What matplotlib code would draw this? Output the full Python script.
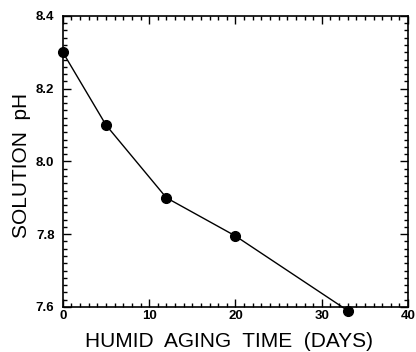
import matplotlib.pyplot as plt
from matplotlib.ticker import MultipleLocator

plt.rcParams['font.family'] = ['Liberation Sans', 'DejaVu Sans']

# Humid aging data
days = [0, 5, 12, 20, 33]
ph = [8.30, 8.10, 7.90, 7.795, 7.59]

fig = plt.figure(figsize=(4.16, 3.52), dpi=100)
ax = fig.add_axes([0.151, 0.128, 0.830, 0.827])

ax.plot(days, ph, color='black', linewidth=1.0, marker='o', markersize=7,
        markerfacecolor='black', markeredgecolor='black', clip_on=False, zorder=3)

ax.set_xlim(0, 40)
ax.set_ylim(7.6, 8.4)
ax.xaxis.set_major_locator(MultipleLocator(10))
ax.xaxis.set_minor_locator(MultipleLocator(1))
ax.yaxis.set_major_locator(MultipleLocator(0.2))
ax.yaxis.set_minor_locator(MultipleLocator(0.02))
ax.yaxis.set_major_formatter(plt.FormatStrFormatter('%.1f'))

ax.tick_params(which='both', direction='in', top=True, right=True, width=1.0)
ax.tick_params(which='major', length=6, labelsize=9.5)
ax.tick_params(axis='y', which='major', pad=6)
ax.tick_params(axis='x', which='major', pad=2)
ax.tick_params(which='minor', length=3)
for lab in ax.get_xticklabels() + ax.get_yticklabels():
    lab.set_fontweight('bold')
for s in ax.spines.values():
    s.set_linewidth(1.2)

ax.set_xlabel('HUMID  AGING  TIME  (DAYS)', fontsize=15)
ax.xaxis.set_label_coords(0.48, -0.085, transform=ax.transAxes)
ax.xaxis.label.set_verticalalignment('top')
ax.set_ylabel('SOLUTION  pH', fontsize=15)
ax.yaxis.set_label_coords(-0.092, 0.485, transform=ax.transAxes)

plt.savefig('out.png', dpi=100)
